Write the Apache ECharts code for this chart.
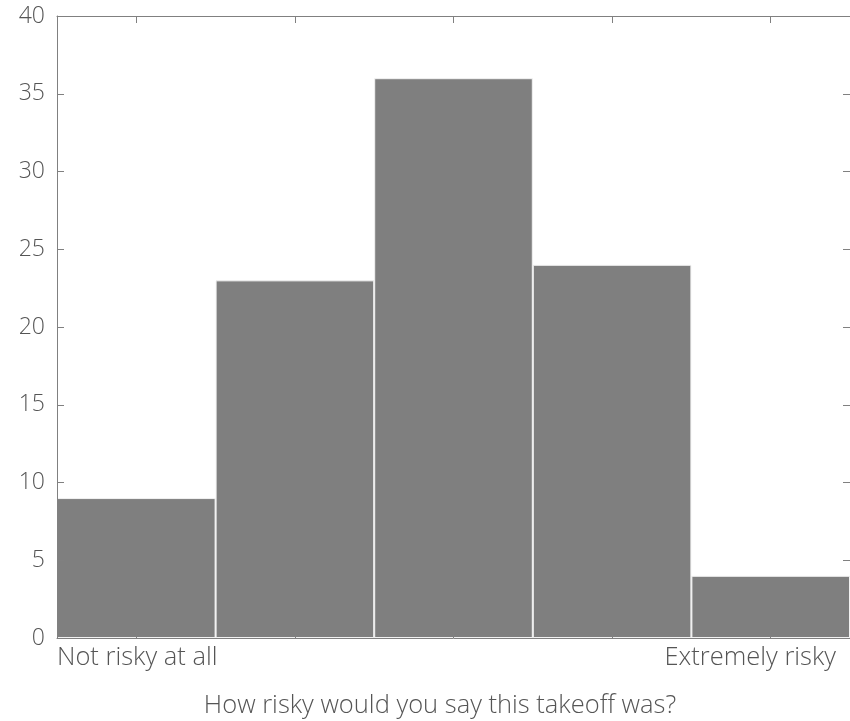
<!DOCTYPE html>
<html>
<head>
<meta charset="utf-8">
<script src="https://cdn.jsdelivr.net/npm/echarts@6/dist/echarts.min.js"></script>
<style>
  html, body { margin: 0; padding: 0; background: #fff; }
  #chart { width: 850px; height: 721px; }
</style>
</head>
<body>
<div id="chart"></div>
<script>
// Risk ratings, 1 (not risky at all) to 5 (extremely risky)
const categories = ['1', '2', '3', '4', '5'];
const counts = [9, 23, 36, 24, 4];
const yTicks = [0, 5, 10, 15, 20, 25, 30, 35, 40];
const endLabels = ['Not risky at all', 'Extremely risky'];
const axisTitle = 'How risky would you say this takeoff was?';

const FONT = '"Open Sans", Lato, sans-serif';
const WEIGHT = 300;
const SIZE = 25.5;
const YSIZE = 23;
const TEXT = '#555555';
const LINE = '#808080';

const chart = echarts.init(document.getElementById('chart'), null, { renderer: 'canvas' });

const tickStyle = { show: true, inside: true, alignWithLabel: true, length: 7, lineStyle: { color: LINE, width: 1 } };

chart.setOption({
  animation: false,
  backgroundColor: '#ffffff',
  grid: { left: 57, right: 0, top: 16, bottom: 83, containLabel: false, outerBoundsMode: 'none' },
  xAxis: [
    {
      // bottom frame edge with ticks at bar centres
      type: 'category',
      gridIndex: 0,
      data: categories,
      position: 'bottom',
      boundaryGap: true,
      z: 10,
      axisLine: { show: true, onZero: false, lineStyle: { color: LINE, width: 1 } },
      axisTick: tickStyle,
      axisLabel: { show: false },
      splitLine: { show: false },
      name: axisTitle,
      nameLocation: 'middle',
      nameGap: 55,
      nameTextStyle: { fontFamily: FONT, fontWeight: WEIGHT, fontSize: SIZE, color: TEXT, padding: [0, 27, 0, 0] }
    },
    {
      // top frame edge
      type: 'category',
      gridIndex: 0,
      data: categories,
      position: 'top',
      boundaryGap: true,
      z: 10,
      axisLine: { show: true, onZero: false, lineStyle: { color: LINE, width: 1 } },
      axisTick: tickStyle,
      axisLabel: { show: false },
      splitLine: { show: false }
    },
    {
      // end-point labels of the rating scale
      type: 'value',
      gridIndex: 0,
      position: 'bottom',
      min: 0,
      max: 5,
      interval: 5,
      z: 10,
      axisLine: { show: false, onZero: false },
      axisTick: { show: false },
      splitLine: { show: false },
      axisLabel: {
        show: true,
        margin: 7,
        fontFamily: FONT,
        fontWeight: WEIGHT,
        fontSize: SIZE,
        color: TEXT,
        alignMinLabel: 'left',
        alignMaxLabel: 'right',
        formatter: function (v) {
          return v === 0 ? endLabels[0] : '{r|' + endLabels[1] + '}';
        },
        rich: { r: { fontFamily: FONT, fontWeight: WEIGHT, fontSize: SIZE, color: TEXT, padding: [0, 14, 0, 0] } }
      }
    }
  ],
  yAxis: [
    {
      type: 'value',
      gridIndex: 0,
      min: yTicks[0],
      max: yTicks[yTicks.length - 1],
      interval: yTicks[1] - yTicks[0],
      position: 'left',
      z: 10,
      axisLine: { show: true, onZero: false, lineStyle: { color: LINE, width: 1 } },
      axisTick: { show: true, inside: true, length: 7, lineStyle: { color: LINE } },
      axisLabel: { show: true, margin: 12, fontFamily: FONT, fontWeight: WEIGHT, fontSize: YSIZE, color: TEXT },
      splitLine: { show: false }
    },
    {
      type: 'value',
      gridIndex: 0,
      min: yTicks[0],
      max: yTicks[yTicks.length - 1],
      interval: yTicks[1] - yTicks[0],
      position: 'right',
      z: 10,
      axisLine: { show: true, onZero: false, lineStyle: { color: LINE, width: 1 } },
      axisTick: { show: true, inside: true, length: 7, lineStyle: { color: LINE } },
      axisLabel: { show: false },
      splitLine: { show: false }
    }
  ],
  series: [
    {
      type: 'bar',
      xAxisIndex: 0,
      yAxisIndex: 0,
      data: counts,
      barCategoryGap: '0%',
      barGap: '0%',
      itemStyle: { color: '#7f7f7f', borderColor: '#f2f2f2', borderWidth: 1 },
      z: 2
    }
  ]
});
</script>
</body>
</html>
